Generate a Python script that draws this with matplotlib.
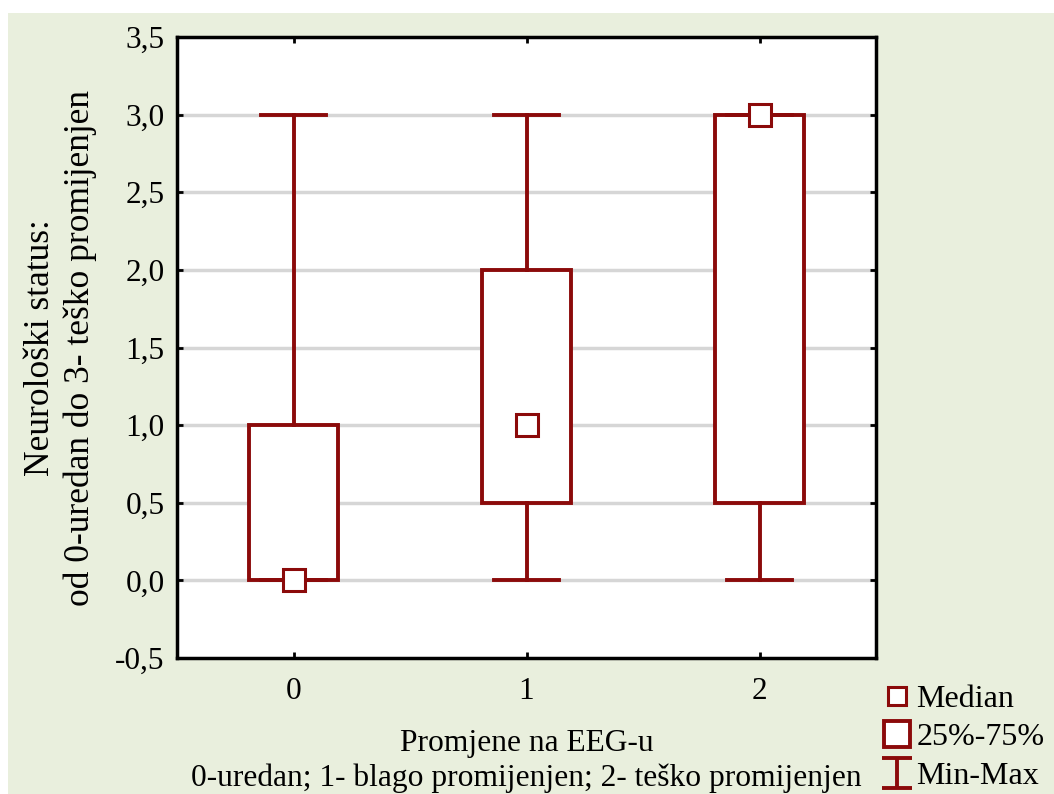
import matplotlib
matplotlib.use("Agg")
import matplotlib.pyplot as plt
from matplotlib.patches import Rectangle
from matplotlib.path import Path
from matplotlib.lines import Line2D
from matplotlib.ticker import FuncFormatter

# data
groups = ["0", "1", "2"]
q1 = [0.0, 0.5, 0.5]
q3 = [1.0, 2.0, 3.0]
medians = [0.0, 1.0, 3.0]
mins = [0.0, 0.0, 0.0]
maxs = [3.0, 3.0, 3.0]
yticks = [-0.5, 0.0, 0.5, 1.0, 1.5, 2.0, 2.5, 3.0, 3.5]

red = "#8B0A0A"
bg = "#E9EFDD"

plt.rcParams["font.family"] = ["Liberation Serif", "DejaVu Serif"]

fig = plt.figure(figsize=(10.54, 7.94), dpi=100)
fig.patch.set_facecolor("white")
fig.patches.append(Rectangle((8 / 1054, 0), 1, 1 - 13 / 794, transform=fig.transFigure,
                             facecolor=bg, edgecolor="none", zorder=-10))

ax = fig.add_axes([177 / 1054, 1 - 658 / 794, 699 / 1054, 621 / 794])
ax.set_facecolor("white")

stats = []
for i in range(len(groups)):
    stats.append({"med": medians[i], "q1": q1[i], "q3": q3[i],
                  "whislo": mins[i], "whishi": maxs[i], "mean": medians[i],
                  "label": groups[i]})

ax.bxp(stats, positions=range(len(groups)), widths=0.385, patch_artist=True,
       showfliers=False, showmeans=True,
       boxprops=dict(facecolor="white", edgecolor=red, linewidth=2.8),
       whiskerprops=dict(color=red, linewidth=2.8),
       capprops=dict(color=red, linewidth=2.8),
       capwidths=0.28,
       medianprops=dict(linewidth=0),
       meanprops=dict(marker="s", markersize=16, markerfacecolor="white",
                      markeredgecolor=red, markeredgewidth=2.2))

ax.set_xlim(-0.5, 2.5)
ax.set_ylim(-0.5, 3.5)
ax.set_yticks(yticks)
ax.yaxis.set_major_formatter(FuncFormatter(lambda v, p: f"{v:.1f}".replace(".", ",")))
ax.set_axisbelow(True)
for v in yticks[1:-1]:
    ax.axhline(v, color="#D6D6D6", linewidth=2.5, zorder=0)

for s in ax.spines.values():
    s.set_linewidth(2.5)
    s.set_color("black")
ax.tick_params(direction="in", length=4, width=2, labelsize=22.5, pad=9,
               top=True, right=True)
ax.tick_params(axis="x", pad=14)

ax.set_xlabel("Promjene na EEG-u\n0-uredan; 1- blago promijenjen; 2- teško promijenjen",
              fontsize=22.7, labelpad=16, linespacing=1.25)
ax.set_ylabel("Neurološki status:\nod 0-uredan do 3- teško promijenjen",
              fontsize=25.5, labelpad=13, linespacing=1.25)

# legend with the three element types
ibeam = Path([(-1, 1), (1, 1), (0, 1), (0, -1), (-1, -1), (1, -1)],
             [Path.MOVETO, Path.LINETO, Path.MOVETO, Path.LINETO, Path.MOVETO, Path.LINETO])
handles = [
    Line2D([], [], ls="none", marker="s", markersize=13, markerfacecolor="white",
           markeredgecolor=red, markeredgewidth=2.2),
    Line2D([], [], ls="none", marker="s", markersize=19, markerfacecolor="white",
           markeredgecolor=red, markeredgewidth=2.8),
    Line2D([], [], ls="none", marker=ibeam, markersize=22, markeredgecolor=red,
           color=red, markeredgewidth=2.8),
]
fig.legend(handles, ["Median", "25%-75%", "Min-Max"], loc="lower left",
           bbox_to_anchor=(862 / 1054, -0.024), frameon=False, fontsize=23,
           handlelength=0.8, handletextpad=0.2, labelspacing=0.28, borderpad=0.2)

fig.savefig("out.png", dpi=100, facecolor=fig.get_facecolor())
